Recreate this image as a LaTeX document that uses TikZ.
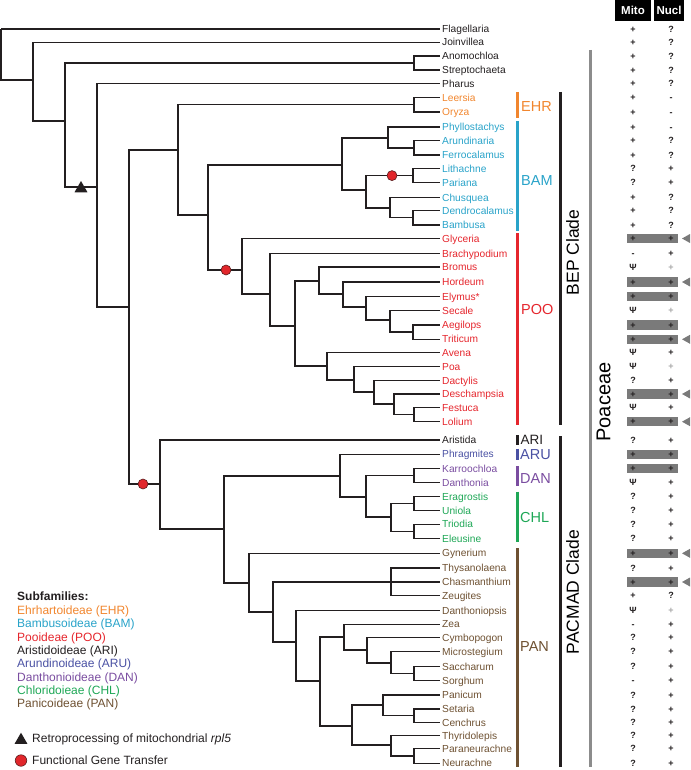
\documentclass[tikz,border=0pt]{standalone}
\usepackage{fontspec}
\setmainfont{Liberation Sans}
\usetikzlibrary{shapes.geometric,calc}
\definecolor{ink}{HTML}{231F20}
\definecolor{ehr}{HTML}{F1862E}
\definecolor{bam}{HTML}{29A3C9}
\definecolor{poo}{HTML}{E5262D}
\definecolor{aru}{HTML}{4A51A3}
\definecolor{dan}{HTML}{7A4DA0}
\definecolor{chl}{HTML}{1EA756}
\definecolor{pan}{HTML}{6E5132}
\definecolor{boxgray}{HTML}{7A7A7A}
\definecolor{poagray}{HTML}{8C8C8C}
\definecolor{lightplus}{HTML}{A8A8A8}
\definecolor{fgtred}{HTML}{E1262B}
\definecolor{fgtline}{HTML}{5A1E1E}
\newcommand\tipfont{\fontsize{10.2}{12}\selectfont}
\newcommand\legfont{\fontsize{12}{14}\selectfont}
\newcommand\symfont{\fontsize{9}{10}\selectfont\bfseries}
\newcommand\barfont{\fontsize{14.5}{16}\selectfont}
\begin{document}
\begin{tikzpicture}[x=1pt,y=-1pt,
  branch/.style={draw=ink,line width=1.4pt},
  tip/.style={anchor=west,inner xsep=2pt,inner ysep=0pt,text height=7.3pt,text depth=0pt,font=\tipfont},
  sym/.style={inner sep=0pt,text height=6.4pt,text depth=0pt,font=\symfont,text=ink},
  gbox/.style={fill=boxgray,minimum width=51pt,minimum height=9.5pt,inner sep=0pt},
  hdr/.style={fill=black,text=white,minimum height=21pt,inner sep=0pt,font=\fontsize{11.5}{13}\selectfont\bfseries},
  blab/.style={anchor=west,inner sep=0pt,font=\barfont},
  leg/.style={anchor=west,inner sep=0pt,text height=8.6pt,text depth=0pt,font=\legfont},
  fgt/.style={circle,fill=fgtred,draw=fgtline,line width=0.6pt,minimum size=10pt,inner sep=0pt},
  rtri/.style={regular polygon,regular polygon sides=3,fill=ink,minimum size=15pt,inner sep=0pt},
  bar/.style={line width=3pt}]
\useasboundingbox (0,0) rectangle (690,770);

% ---------- tips ----------
\foreach \i/\y/\nm/\cl in {
1/29/Flagellaria/ink, 2/42.3/Joinvillea/ink, 3/56/Anomochloa/ink, 4/70/Streptochaeta/ink,
5/83.5/Pharus/ink, 6/97.5/Leersia/ehr, 7/112/Oryza/ehr, 8/127/Phyllostachys/bam,
9/140.7/Arundinaria/bam, 10/155/Ferrocalamus/bam, 11/168.5/Lithachne/bam, 12/182.7/Pariana/bam,
13/197.5/Chusquea/bam, 14/210.5/Dendrocalamus/bam, 15/225/Bambusa/bam, 16/238.5/Glyceria/poo,
17/253.5/Brachypodium/poo, 18/267/Bromus/poo, 19/282/Hordeum/poo, 20/296.5/Elymus*/poo,
21/310.7/Secale/poo, 22/325/Aegilops/poo, 23/339.3/Triticum/poo, 24/352.7/Avena/poo,
25/366.5/Poa/poo, 26/380.7/Dactylis/poo, 27/394/Deschampsia/poo, 28/407.5/Festuca/poo,
29/421.7/Lolium/poo, 30/440/Aristida/ink, 31/454.3/Phragmites/aru, 32/468.5/Karroochloa/dan,
33/482.7/Danthonia/dan, 34/496.5/Eragrostis/chl, 35/510.5/Uniola/chl, 36/524.3/Triodia/chl,
37/538.5/Eleusine/chl, 38/553.3/Gynerium/pan, 39/567.8/Thysanolaena/pan, 40/582/Chasmanthium/pan,
41/595.5/Zeugites/pan, 42/610.5/Danthoniopsis/pan, 43/624.3/Zea/pan, 44/637.7/Cymbopogon/pan,
45/651.5/Microstegium/pan, 46/666.5/Saccharum/pan, 47/680.5/Sorghum/pan, 48/695/Panicum/pan,
49/709/Setaria/pan, 50/722.5/Cenchrus/pan, 51/735.5/Thyridolepis/pan, 52/748.5/Paraneurachne/pan,
53/763.3/Neurachne/pan}
  {\node[tip,text=\cl] (t\i) at (440,\y) {\nm};}

% ---------- internal nodes ----------
\coordinate (R0) at (1,29);
\coordinate (A) at (33,80);
\coordinate (B) at (65,121);
\coordinate (AS) at (414,63);
\coordinate (C) at (97,187);
\coordinate (D) at (129,307);
\coordinate (E) at (178,150);
\coordinate (EHR) at (414,104.75);
\coordinate (F) at (208,215);
\coordinate (G) at (342,165);
\coordinate (G1) at (388,138);
\coordinate (G1b) at (414,147.85);
\coordinate (H) at (366,190);
\coordinate (LP) at (413,175.6);
\coordinate (CH) at (390,208);
\coordinate (DB) at (413,217.75);
\coordinate (I) at (242,270);
\coordinate (J) at (270,294);
\coordinate (K) at (295,326);
\coordinate (L) at (319,281);
\coordinate (N) at (343,294);
\coordinate (O) at (366,307);
\coordinate (P) at (390,320);
\coordinate (AT) at (413,332.15);
\coordinate (M) at (327,366);
\coordinate (Q) at (354,380);
\coordinate (R) at (374,392);
\coordinate (S) at (394,404);
\coordinate (FL) at (414,414.6);
\coordinate (T) at (160,484);
\coordinate (U) at (224,529);
\coordinate (V) at (340,476);
\coordinate (X) at (366,497);
\coordinate (KD) at (414,475.6);
\coordinate (Y) at (391,517);
\coordinate (EU) at (414,503.5);
\coordinate (TE) at (414,531.4);
\coordinate (W) at (249,583);
\coordinate (Z) at (273,612);
\coordinate (TCZ) at (391,582);
\coordinate (AA) at (296,642);
\coordinate (AB) at (320,681);
\coordinate (AC) at (344,637);
\coordinate (AE) at (367,650);
\coordinate (AF) at (391,663);
\coordinate (SS) at (414,673.5);
\coordinate (AD) at (352,726);
\coordinate (PN) at (383,705);
\coordinate (SC) at (414,715.75);
\coordinate (TH) at (391,745);
\coordinate (PNn) at (414,755.9);

% ---------- branches ----------
\foreach \pa/\ch in {R0/t1, R0/A, A/t2, A/B, B/AS, B/C, AS/t3, AS/t4, C/t5, C/D, D/E, D/T,
  E/EHR, E/F, EHR/t6, EHR/t7, F/G, F/I, G/G1, G/H, G1/t8, G1/G1b, G1b/t9, G1b/t10,
  H/LP, H/CH, LP/t11, LP/t12, CH/t13, CH/DB, DB/t14, DB/t15, I/t16, I/J, J/t17, J/K,
  K/L, K/M, L/t18, L/N, N/t19, N/O, O/t20, O/P, P/t21, P/AT, AT/t22, AT/t23,
  M/t24, M/Q, Q/t25, Q/R, R/t26, R/S, S/t27, S/FL, FL/t28, FL/t29,
  T/t30, T/U, U/V, U/W, V/t31, V/X, X/KD, X/Y, KD/t32, KD/t33, Y/EU, Y/TE,
  EU/t34, EU/t35, TE/t36, TE/t37, W/t38, W/Z, Z/TCZ, Z/AA, TCZ/t39, TCZ/t40, TCZ/t41,
  AA/t42, AA/AB, AB/AC, AB/AD, AC/t43, AC/AE, AE/t44, AE/AF, AF/t45, AF/SS, SS/t46, SS/t47,
  AD/PN, AD/TH, PN/t48, PN/SC, SC/t49, SC/t50, TH/t51, TH/PNn, PNn/t52, PNn/t53}
  {\draw[branch] (\pa) |- (\ch);}

% ---------- markers on tree ----------
\node[rtri] (rp) at (81,188.5) {};
\node[fgt] (fg1) at (392,175.6) {};
\node[fgt] (fg2) at (226,270) {};
\node[fgt] (fg3) at (143,484) {};

% ---------- subfamily bars ----------
\draw[bar,ehr] (517,92) -- (517,118.5);
\draw[bar,bam] (517,121.5) -- (517,230.5);
\draw[bar,poo] (517,233) -- (517,425);
\draw[bar,ink] (517,435) -- (517,445);
\draw[bar,aru] (517,448.5) -- (517,460);
\draw[bar,dan] (517,466) -- (517,486);
\draw[bar,chl] (517,491.5) -- (517,542);
\draw[bar,pan] (517,548) -- (517,767);
\node[blab,text=ehr] (lehr) at (521,106.5) {EHR};
\node[blab,text=bam] (lbam) at (521,180.3) {BAM};
\node[blab,text=poo] (lpoo) at (521,310) {POO};
\node[blab,text=ink,font=\fontsize{13.5}{15}\selectfont] (lari) at (520.5,440) {ARI};
\node[blab,text=aru] (laru) at (520,455) {ARU};
\node[blab,text=dan] (ldan) at (520,479) {DAN};
\node[blab,text=chl] (lchl) at (520,517.5) {CHL};
\node[blab,text=pan] (lpan) at (520,646.7) {PAN};

% ---------- clade bars ----------
\draw[bar,ink] (560,92) -- (560,425);
\draw[bar,ink] (560,436) -- (560,767);
\node[rotate=90,inner sep=0pt,font=\fontsize{17.5}{19}\selectfont] (bep) at (572.5,252.5) {BEP Clade};
\node[rotate=90,inner sep=0pt,font=\fontsize{17.5}{19}\selectfont] (pacmad) at (572.5,592) {PACMAD Clade};
\draw[bar,poagray] (590,50) -- (590,767);
\node[rotate=90,inner sep=0pt,font=\fontsize{20}{22}\selectfont] (poa) at (603.5,402) {Poaceae};

% ---------- Mito / Nucl table ----------
\node[hdr,minimum width=36pt] (mito) at (633,10.5) {Mito};
\node[hdr,minimum width=30pt] (nucl) at (669,10.5) {Nucl};
\coordinate (mcol) at (633,0);
\coordinate (ncol) at (671,0);
\coordinate (bcol) at (652.5,0);
\coordinate (acol) at (682,0);
\foreach \i/\mm/\nn in {1/+/?, 2/+/?, 3/+/?, 4/+/?, 5/+/?, 6/+/-, 7/+/-, 8/+/-, 9/+/?, 10/+/?,
  11/?/+, 12/?/+, 13/+/?, 14/+/?, 15/+/?, 17/-/+, 24/Ψ/+, 26/?/+, 28/Ψ/+, 30/?/+, 33/Ψ/+,
  34/?/+, 35/?/+, 36/?/+, 37/?/+, 39/?/+, 41/+/?, 43/-/+, 44/?/+, 45/?/+, 46/?/+, 47/-/+,
  48/?/+, 49/?/+, 50/?/+, 51/?/+, 52/?/+, 53/?/+}
  {\node[sym] (mi\i) at (mcol |- t\i.west) {\mm};
   \node[sym] (nu\i) at (ncol |- t\i.west) {\nn};}
\foreach \i in {18,21,25,42}
  {\node[sym] (mi\i) at (mcol |- t\i.west) {Ψ};
   \node[sym,text=lightplus] (nu\i) at (ncol |- t\i.west) {+};}
\foreach \i in {16,19,20,22,23,27,29,31,32,38,40}
  {\node[gbox] (bx\i) at (bcol |- t\i.west) {};
   \node[sym] (mi\i) at (mcol |- t\i.west) {+};
   \node[sym] (nu\i) at (ncol |- t\i.west) {+};}
\foreach \i in {16,19,23,27,29,38,40}
  {\coordinate (ar\i) at (acol |- t\i.west);
   \fill[boxgray] (ar\i) -- ++(8,-4.5) -- ++(0,9) -- cycle;}

% ---------- legend ----------
\node[leg,font=\legfont\bfseries,text=ink] (lsub) at (17,596) {Subfamilies:};
\node[leg,text=ehr] (lg1) at (17,610) {Ehrhartoideae (EHR)};
\node[leg,text=bam] (lg2) at (17,623.3) {Bambusoideae (BAM)};
\node[leg,text=poo] (lg3) at (17,636.7) {Pooideae (POO)};
\node[leg,text=ink] (lg4) at (17,650) {Aristidoideae (ARI)};
\node[leg,text=aru] (lg5) at (17,663.3) {Arundinoideae (ARU)};
\node[leg,text=dan] (lg6) at (17,676.7) {Danthonioideae (DAN)};
\node[leg,text=chl] (lg7) at (17,690) {Chloridoieae (CHL)};
\node[leg,text=pan] (lg8) at (17,703.3) {Panicoideae (PAN)};
\node[rtri] (legtri) at (21,740.2) {};
\node[leg,text=ink] (lgtri) at (32,738.3) {Retroprocessing of mitochondrial \textit{rpl5}};
\node[fgt,minimum size=11.5pt] (legfgt) at (21,760.5) {};
\node[leg,text=ink] (lgfgt) at (32,760) {Functional Gene Transfer};
\end{tikzpicture}
\end{document}
